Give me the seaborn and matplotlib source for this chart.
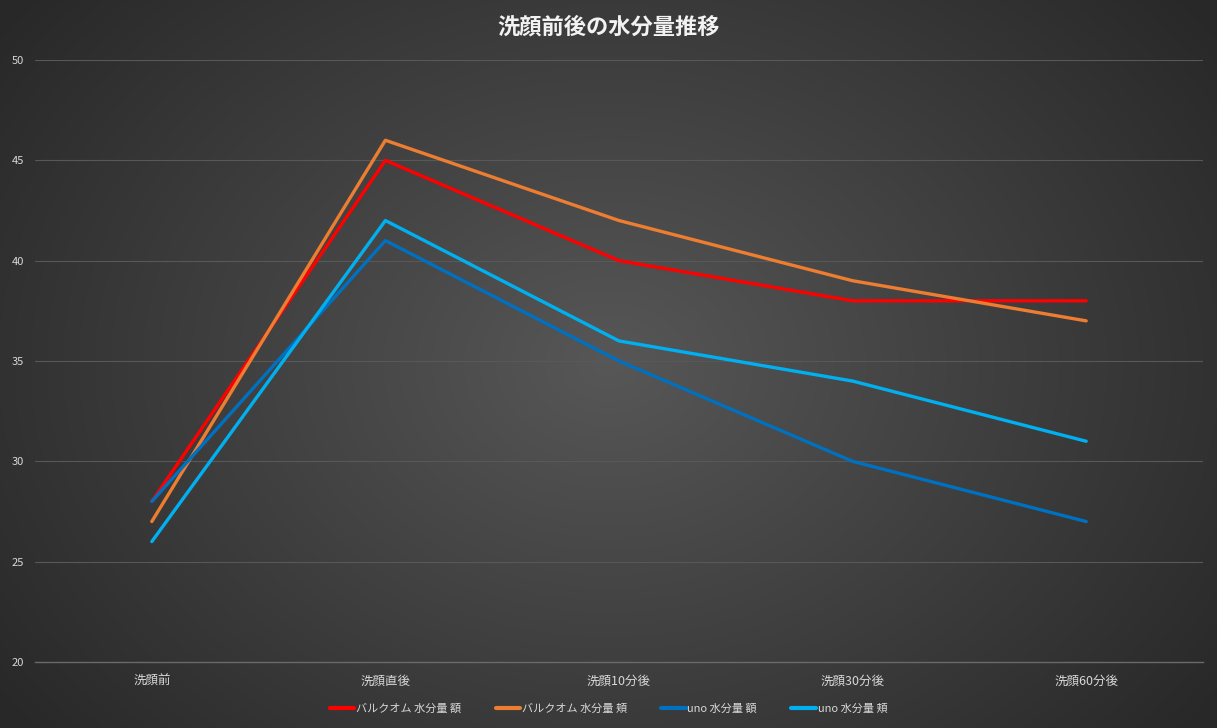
import numpy as np
import pandas as pd
import matplotlib
matplotlib.use("Agg")
import matplotlib.pyplot as plt
import seaborn as sns

categories = ["洗顔前", "洗顔直後", "洗顔10分後", "洗顔30分後", "洗顔60分後"]
bulk_forehead = [28, 45, 40, 38, 38]
bulk_cheek = [27, 46, 42, 39, 37]
uno_forehead = [28, 41, 35, 30, 27]
uno_cheek = [26, 42, 36, 34, 31]
series_names = ["バルクオム 水分量 額", "バルクオム 水分量 頬", "uno 水分量 額", "uno 水分量 頬"]
colors = ["#FF0000", "#ED7D31", "#0070C0", "#00B0F0"]
yticks = [20, 25, 30, 35, 40, 45, 50]

sns.set_theme(style="dark")
plt.rcParams['font.family'] = ['Noto Sans CJK JP', 'DejaVu Sans']

rows = []
for name, vals in zip(series_names, [bulk_forehead, bulk_cheek, uno_forehead, uno_cheek]):
    for i, (c, v) in enumerate(zip(categories, vals)):
        rows.append({"idx": i, "cat": c, "value": v, "series": name})
df = pd.DataFrame(rows)

W, H = 1217, 728
fig = plt.figure(figsize=(W / 100, H / 100), dpi=100)

# radial gradient background
bg = fig.add_axes([0, 0, 1, 1], zorder=0)
yy, xx = np.mgrid[0:H, 0:W]
cx, cy = W * 0.5, H * 0.5
r = np.sqrt(((xx - cx) / (W * 0.62)) ** 2 + ((yy - cy) / (H * 0.8)) ** 2)
r = np.clip(r, 0, 1)
c0 = np.array([0x57, 0x57, 0x57]) / 255
c1 = np.array([0x28, 0x28, 0x28]) / 255
img = c0[None, None, :] * (1 - r[..., None]) + c1[None, None, :] * r[..., None]
bg.imshow(img, aspect="auto", extent=[0, 1, 0, 1])
bg.axis("off")

ax = fig.add_axes([35 / W, 66 / H, (1203 - 35) / W, (662 - 60) / H], zorder=1)
ax.patch.set_alpha(0)

sns.lineplot(data=df, x="idx", y="value", hue="series", palette=colors,
             hue_order=series_names, linewidth=2.4, ax=ax, sort=False, legend=True)

ax.set_xlim(-0.5, 4.5)
ax.set_ylim(20, 50)
ax.set_yticks(yticks)
ax.set_yticklabels([str(t) for t in yticks], color="#D9D9D9", fontsize=8)
ax.set_xticks(range(len(categories)))
ax.set_xticklabels(categories, color="#D9D9D9", fontsize=9)
ax.tick_params(axis="y", length=0, pad=8)
ax.tick_params(axis="x", length=0, pad=9)
ax.set_xlabel("")
ax.set_ylabel("")
ax.grid(False)
for t in yticks[1:]:
    ax.axhline(t, color="#585858", linewidth=0.8, zorder=0)
for s in ["top", "right", "left"]:
    ax.spines[s].set_visible(False)
ax.spines["bottom"].set_color("#6A6A6A")
ax.spines["bottom"].set_linewidth(1.0)

handles, labels = ax.get_legend_handles_labels()
ax.get_legend().remove()
leg = fig.legend(handles, labels, loc="center", bbox_to_anchor=(0.5, 1 - 709 / H), ncol=4,
                 frameon=False, fontsize=8, handlelength=2.2, handletextpad=0.15,
                 columnspacing=3.1, labelcolor="#D9D9D9")
for h in leg.get_lines():
    h.set_linewidth(3)

fig.text(0.5, 1 - 27 / H, "洗顔前後の水分量推移", ha="center", va="center",
         color="#F2F2F2", fontsize=16, fontweight="bold")

fig.savefig("out.png", dpi=100)
